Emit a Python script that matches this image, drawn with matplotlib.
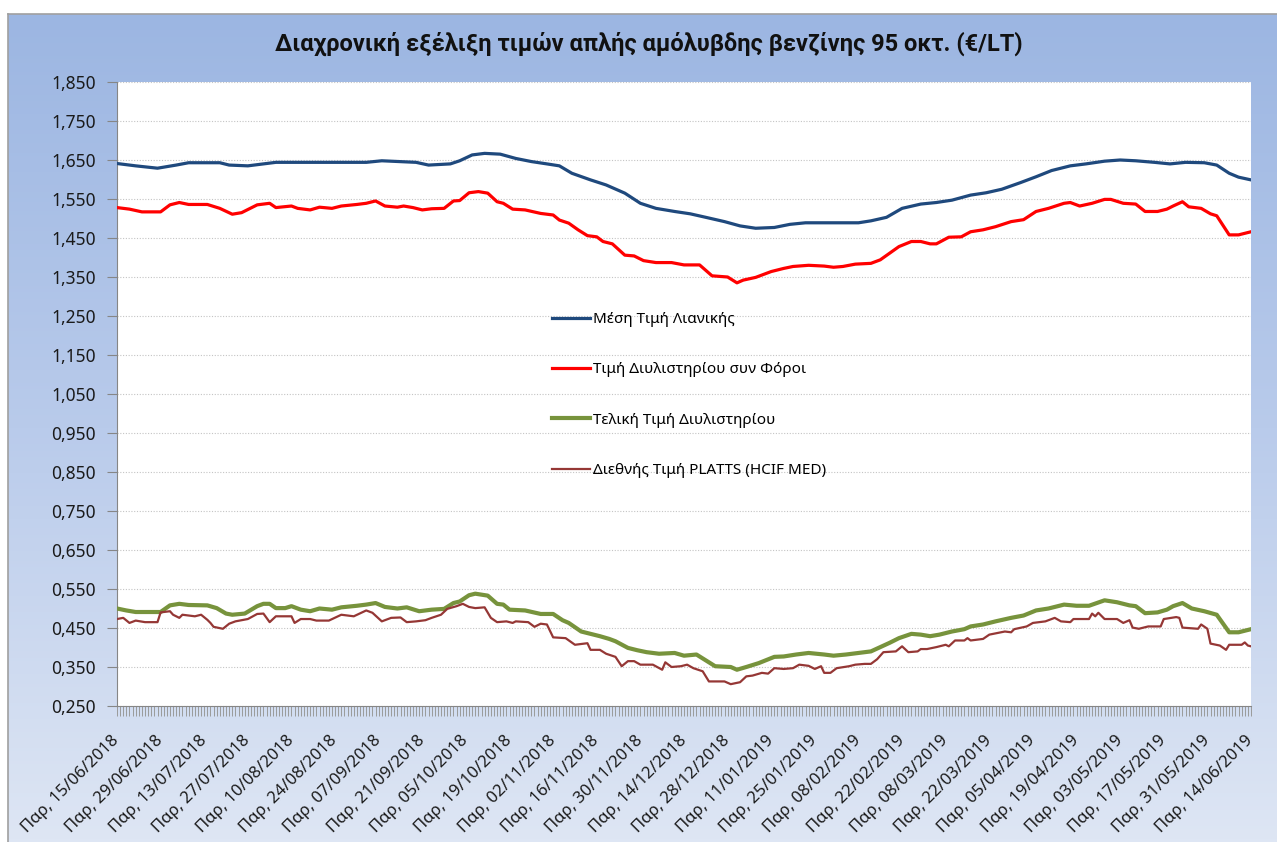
import matplotlib
matplotlib.use('Agg')
import matplotlib.pyplot as plt
import matplotlib.dates as mdates
import numpy as np
import pandas as pd
from matplotlib.colors import LinearSegmentedColormap
from matplotlib.ticker import FuncFormatter

plt.rcParams['font.family'] = ['Noto Sans', 'DejaVu Sans']

# day offsets are counted from Friday 15/06/2018
start = pd.Timestamp('2018-06-15')

retail_days = [0, 6, 13, 19, 23, 33, 36, 42, 48, 51,
               80, 85, 96, 100, 107, 110, 114, 118, 123, 128,
               133, 138, 142, 146, 152, 157, 163, 168, 173, 179,
               184, 189, 195, 200, 205, 211, 216, 221, 238, 242,
               247, 252, 258, 263, 268, 274, 279, 284, 290, 295,
               300, 306, 311, 317, 322, 327, 333, 338, 343, 349,
               353, 357, 360, 364]
retail = [1.641, 1.635, 1.629, 1.637, 1.643, 1.643, 1.637, 1.635, 1.641, 1.644,
          1.644, 1.648, 1.644, 1.637, 1.640, 1.648, 1.663, 1.667, 1.665, 1.654,
          1.646, 1.640, 1.635, 1.616, 1.599, 1.586, 1.565, 1.539, 1.526, 1.518,
          1.512, 1.503, 1.492, 1.481, 1.475, 1.477, 1.485, 1.489, 1.489, 1.494,
          1.503, 1.526, 1.537, 1.541, 1.547, 1.560, 1.566, 1.575, 1.592, 1.607,
          1.623, 1.635, 1.640, 1.647, 1.650, 1.648, 1.644, 1.640, 1.644, 1.643,
          1.637, 1.616, 1.606, 1.599]

taxed_days = [0, 4, 8, 14, 17, 20, 23, 29, 33, 37,
              40, 45, 49, 51, 56, 58, 62, 65, 69, 72,
              77, 80, 83, 86, 90, 92, 95, 98, 101, 105,
              108, 110, 113, 116, 119, 122, 124, 127, 131, 136,
              140, 142, 145, 148, 151, 154, 156, 159, 163, 166,
              169, 173, 178, 182, 187, 191, 196, 199, 201, 205,
              210, 214, 217, 222, 227, 230, 233, 237, 242, 245,
              248, 251, 255, 258, 261, 263, 267, 271, 274, 278,
              282, 287, 291, 295, 299, 304, 306, 309, 313, 317,
              319, 323, 327, 330, 334, 337, 339, 342, 344, 348,
              351, 353, 357, 360, 364]
taxed = [1.528, 1.524, 1.517, 1.517, 1.535, 1.541, 1.536, 1.536, 1.526, 1.511,
         1.515, 1.535, 1.539, 1.528, 1.532, 1.526, 1.522, 1.529, 1.526, 1.532,
         1.536, 1.539, 1.545, 1.532, 1.529, 1.532, 1.528, 1.522, 1.525, 1.526,
         1.545, 1.546, 1.566, 1.569, 1.565, 1.543, 1.539, 1.524, 1.522, 1.513,
         1.509, 1.496, 1.488, 1.471, 1.456, 1.453, 1.441, 1.435, 1.406, 1.404,
         1.392, 1.387, 1.387, 1.381, 1.381, 1.353, 1.350, 1.335, 1.342, 1.349,
         1.364, 1.372, 1.377, 1.380, 1.378, 1.375, 1.377, 1.383, 1.385, 1.394,
         1.411, 1.428, 1.441, 1.441, 1.435, 1.435, 1.452, 1.453, 1.466, 1.471,
         1.479, 1.492, 1.497, 1.518, 1.526, 1.539, 1.541, 1.532, 1.539, 1.549,
         1.549, 1.539, 1.537, 1.518, 1.518, 1.524, 1.532, 1.543, 1.530, 1.526,
         1.512, 1.507, 1.458, 1.458, 1.466]

refinery_days = [0, 3, 6, 14, 17, 20, 23, 29, 32, 35,
                 37, 41, 45, 47, 49, 51, 54, 56, 59, 62,
                 65, 69, 72, 77, 80, 83, 86, 90, 93, 97,
                 101, 105, 108, 110, 113, 115, 119, 122, 124, 126,
                 131, 136, 140, 143, 145, 149, 152, 155, 158, 160,
                 164, 167, 170, 174, 179, 182, 186, 189, 192, 197,
                 199, 202, 206, 211, 214, 218, 222, 227, 230, 234,
                 238, 242, 245, 248, 251, 255, 258, 261, 264, 268,
                 272, 274, 278, 282, 287, 291, 295, 299, 304, 308,
                 312, 317, 321, 325, 327, 330, 334, 337, 339, 342,
                 345, 349, 353, 357, 360, 364]
refinery = [0.500, 0.495, 0.491, 0.491, 0.508, 0.512, 0.509, 0.508, 0.501, 0.487,
            0.484, 0.487, 0.506, 0.512, 0.512, 0.501, 0.501, 0.506, 0.497, 0.493,
            0.500, 0.497, 0.503, 0.507, 0.510, 0.514, 0.504, 0.500, 0.503, 0.493,
            0.497, 0.499, 0.514, 0.518, 0.534, 0.538, 0.533, 0.512, 0.510, 0.497,
            0.495, 0.486, 0.486, 0.470, 0.463, 0.441, 0.435, 0.429, 0.422, 0.416,
            0.399, 0.393, 0.388, 0.384, 0.386, 0.379, 0.382, 0.367, 0.352, 0.350,
            0.343, 0.350, 0.360, 0.376, 0.377, 0.382, 0.386, 0.382, 0.379, 0.382,
            0.386, 0.390, 0.401, 0.412, 0.424, 0.435, 0.433, 0.429, 0.433, 0.441,
            0.447, 0.454, 0.459, 0.467, 0.476, 0.482, 0.495, 0.500, 0.510, 0.507,
            0.507, 0.521, 0.516, 0.508, 0.506, 0.488, 0.490, 0.497, 0.506, 0.514,
            0.500, 0.493, 0.484, 0.439, 0.439, 0.447]

platts_days = [0, 2, 4, 6, 9, 13, 14, 17, 18, 20,
               21, 25, 27, 29, 30, 31, 34, 36, 38, 42,
               45, 47, 49, 51, 56, 57, 59, 62, 64, 68,
               72, 76, 80, 82, 85, 88, 91, 93, 96, 99,
               101, 104, 106, 109, 111, 113, 115, 118, 120, 122,
               125, 127, 128, 132, 134, 136, 138, 140, 144, 147,
               151, 152, 155, 157, 160, 162, 164, 166, 168, 172,
               175, 176, 178, 181, 183, 185, 188, 190, 195, 197,
               200, 202, 204, 207, 209, 211, 214, 217, 219, 222,
               224, 226, 227, 229, 231, 235, 237, 240, 242, 244,
               246, 250, 252, 254, 257, 258, 260, 263, 266, 267,
               269, 272, 273, 274, 278, 280, 285, 287, 288, 292,
               294, 298, 301, 303, 306, 307, 312, 313, 314, 315,
               317, 321, 323, 325, 326, 328, 331, 335, 336, 340,
               341, 342, 347, 348, 350, 351, 354, 356, 357, 361,
               362, 363, 364]
platts = [0.473, 0.476, 0.463, 0.469, 0.465, 0.465, 0.490, 0.493, 0.484, 0.476,
          0.484, 0.480, 0.484, 0.471, 0.463, 0.453, 0.448, 0.461, 0.467, 0.473,
          0.486, 0.487, 0.465, 0.480, 0.480, 0.463, 0.473, 0.473, 0.469, 0.469,
          0.484, 0.480, 0.495, 0.489, 0.467, 0.476, 0.477, 0.465, 0.467, 0.470,
          0.476, 0.484, 0.499, 0.506, 0.512, 0.504, 0.501, 0.503, 0.476, 0.465,
          0.467, 0.463, 0.467, 0.465, 0.453, 0.461, 0.459, 0.426, 0.424, 0.407,
          0.411, 0.394, 0.394, 0.384, 0.376, 0.352, 0.365, 0.365, 0.356, 0.356,
          0.343, 0.362, 0.350, 0.352, 0.356, 0.347, 0.339, 0.313, 0.313, 0.306,
          0.311, 0.326, 0.328, 0.335, 0.333, 0.347, 0.345, 0.347, 0.356, 0.353,
          0.345, 0.352, 0.335, 0.335, 0.347, 0.352, 0.356, 0.358, 0.358, 0.370,
          0.388, 0.390, 0.403, 0.388, 0.390, 0.396, 0.396, 0.401, 0.407, 0.403,
          0.418, 0.418, 0.424, 0.418, 0.422, 0.433, 0.441, 0.439, 0.447, 0.454,
          0.463, 0.467, 0.476, 0.467, 0.465, 0.473, 0.473, 0.487, 0.480, 0.489,
          0.473, 0.473, 0.463, 0.470, 0.451, 0.448, 0.454, 0.454, 0.473, 0.478,
          0.476, 0.451, 0.448, 0.459, 0.448, 0.410, 0.405, 0.394, 0.407, 0.407,
          0.413, 0.405, 0.403]

labels = ['Μέση Τιμή Λιανικής', 'Τιμή Διυλιστηρίου συν Φόροι',
          'Τελική Τιμή Διυλιστηρίου', 'Διεθνής Τιμή PLATTS (HCIF MED)']
title = 'Διαχρονική εξέλιξη τιμών απλής αμόλυβδης βενζίνης 95 οκτ. (€/LT)'


def to_dates(days):
    return start + pd.to_timedelta(days, unit='D')


W, H = 1277, 842
fig = plt.figure(figsize=(W / 100, H / 100), dpi=100)

# gradient frame behind the chart
bg = fig.add_axes([8 / W, 0, 1 - 8 / W, 1 - 14 / H])
grad = np.linspace(0, 1, 256).reshape(-1, 1)
cmap = LinearSegmentedColormap.from_list('frame', ['#9CB6E2', '#B9CBEB', '#DEE6F4'])
bg.imshow(grad, aspect='auto', cmap=cmap, extent=[0, 1, 0, 1])
bg.set_xticks([])
bg.set_yticks([])
for s in bg.spines.values():
    s.set_color('#A0A0A0')
    s.set_linewidth(1.2)
bg.spines['right'].set_visible(False)
bg.spines['bottom'].set_visible(False)

fig.text(649 / W, 1 - 44 / H, title, ha='center', va='center',
         fontsize=17, fontweight='bold', color='#111111',
         family=['Roboto', 'DejaVu Sans'])

ax = fig.add_axes([117 / W, 1 - 706 / H, (1251 - 117) / W, (706 - 82) / H])
ax.set_facecolor('white')

ax.plot(to_dates(retail_days), retail, color='#1F497D', lw=2.3, label=labels[0], zorder=3)
ax.plot(to_dates(taxed_days), taxed, color='#FF0000', lw=2.3, label=labels[1], zorder=3)
ax.plot(to_dates(refinery_days), refinery, color='#77933C', lw=3.0, label=labels[2], zorder=3)
ax.plot(to_dates(platts_days), platts, color='#953735', lw=1.6, label=labels[3], zorder=3)

ax.set_ylim(0.25, 1.85)
ax.set_yticks(np.arange(0.25, 1.851, 0.1))
ax.yaxis.set_major_formatter(FuncFormatter(lambda v, p: f'{v:.3f}'.replace('.', ',')))
ax.grid(axis='y', color='#C4C4C4', linestyle=(0, (1, 1.5)), lw=0.8)

end = start + pd.Timedelta(days=364)
ax.set_xlim(start, end)
ax.set_xticks(pd.date_range(start, end, freq='14D'))
ax.xaxis.set_minor_locator(mdates.DayLocator())
ax.xaxis.set_major_formatter(mdates.DateFormatter('Παρ, %d/%m/%Y'))
for lab in ax.get_xticklabels():
    lab.set_rotation(45)
    lab.set_ha('right')
    lab.set_va('center')
    lab.set_rotation_mode('anchor')

for side in ['top', 'right']:
    ax.spines[side].set_visible(False)
for side in ['left', 'bottom']:
    ax.spines[side].set_color('#868686')
ax.tick_params(axis='y', length=7, color='#868686', labelsize=12.5, pad=8, labelcolor='#1A1A1A')
ax.tick_params(axis='x', which='both', length=7, color='#9A9A9A', width=0.7)
ax.tick_params(axis='x', which='major', labelsize=12, pad=16, labelcolor='#1A1A1A')

ax.legend(loc='upper left', bbox_to_anchor=(552 / W, 1 - 312 / H), bbox_transform=fig.transFigure,
          frameon=False, fontsize=11, handlelength=2.5, handletextpad=0.2,
          labelspacing=2.31, borderpad=0, borderaxespad=0)

fig.savefig('out.png', dpi=100)
